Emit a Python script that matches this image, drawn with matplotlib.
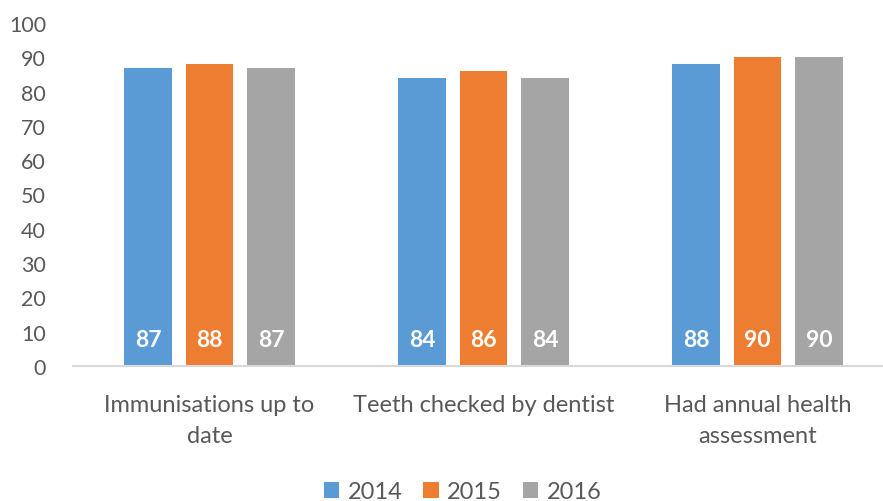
import matplotlib
matplotlib.use("Agg")
import matplotlib.pyplot as plt
import numpy as np

categories = ["Immunisations up to\ndate", "Teeth checked by dentist", "Had annual health\nassessment"]
years = ["2014", "2015", "2016"]
v2014 = [87, 84, 88]
v2015 = [88, 86, 90]
v2016 = [87, 84, 90]
series = [v2014, v2015, v2016]
colors = ["#5B9BD5", "#ED7D31", "#A5A5A5"]

plt.rcParams['font.family'] = ['Lato', 'DejaVu Sans']

W, H = 883, 502
fig = plt.figure(figsize=(W/100, H/100), dpi=100)
left = 72.5 / W
right = 894.5 / W
bottom = (H - 367) / H
top = (H - 24) / H
ax = fig.add_axes([left, bottom, right - left, top - bottom])

x = np.arange(len(categories))
bw = 0.175
pitch = 0.2245
for i, (vals, c, yr) in enumerate(zip(series, colors, years)):
    pos = x + (i - 1) * pitch
    ax.bar(pos, vals, width=bw, color=c, label=yr, zorder=2)
    for p, v in zip(pos, vals):
        ax.text(p, 7.7, str(v), ha='center', va='center', color='white',
                fontsize=16.5, fontweight='bold')

ax.set_xlim(-0.5, 2.5)
ax.set_ylim(0, 100)
ax.set_yticks(range(0, 101, 10))
ax.tick_params(axis='y', length=0, labelsize=15.5, labelcolor='#595959', pad=19)
ax.tick_params(axis='x', length=0, labelsize=17, labelcolor='#595959', pad=20)
ax.set_xticks(x)
ax.set_xticklabels(categories, linespacing=1.6)
for s in ['top', 'right', 'left']:
    ax.spines[s].set_visible(False)
ax.spines['bottom'].set_color('#D9D9D9')
ax.spines['bottom'].set_linewidth(1.5)

leg = fig.legend(loc='center', bbox_to_anchor=(0.524, 0.018), ncol=3, frameon=False,
                 fontsize=17, handlelength=0.65, handleheight=0.65, handletextpad=0.35,
                 columnspacing=0.9)
for t in leg.get_texts():
    t.set_color('#595959')

fig.savefig("out.png", dpi=100)
